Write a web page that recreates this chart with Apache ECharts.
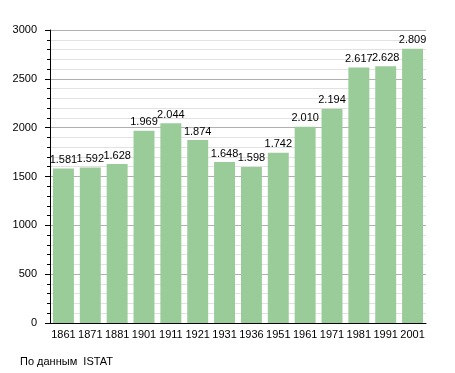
<!DOCTYPE html>
<html><head><meta charset="utf-8">
<script src="https://cdn.jsdelivr.net/npm/echarts@6/dist/echarts.min.js"></script>
<style>html,body{margin:0;padding:0;background:#fff}#c{width:455px;height:373px}</style>
</head><body><div id="c"></div>
<script>
const years = ["1861","1871","1881","1901","1911","1921","1931","1936","1951","1961","1971","1981","1991","2001"];
const population = [1581,1592,1628,1969,2044,1874,1648,1598,1742,2010,2194,2617,2628,2809];
const yTicks = [0,500,1000,1500,2000,2500,3000];
const sourceText = "По данным  ISTAT";

const chart = echarts.init(document.getElementById('c'), null, {renderer:'canvas'});
const font = 'Liberation Sans, Arial, sans-serif';
chart.setOption({
  animation:false,
  grid:{left:50,right:29,top:30,bottom:50},
  graphic:[{type:'text',left:20,top:356,style:{text:sourceText,font:'11px '+font,fill:'#000'}}],
  xAxis:{type:'category',data:years,
    axisLine:{lineStyle:{color:'#000',width:1}},
    axisTick:{show:false},
    axisLabel:{color:'#000',fontSize:11,fontFamily:font,margin:6,interval:0}},
  yAxis:{type:'value',min:yTicks[0],max:yTicks[yTicks.length-1],interval:500,
    axisLine:{show:true,lineStyle:{color:'#000',width:1}},
    axisTick:{show:true,length:5,lineStyle:{color:'#000'}},
    minorTick:{show:true,splitNumber:5,length:3,lineStyle:{color:'#000'}},
    splitLine:{lineStyle:{color:'#b0b0b0',width:1}},
    minorSplitLine:{show:true,lineStyle:{color:'#e2e2e2',width:1}},
    axisLabel:{color:'#000',fontSize:11,fontFamily:font,margin:13,formatter:v=>String(v)}},
  series:[{type:'bar',data:population,barCategoryGap:'22%',
    itemStyle:{color:'#99cc99'},
    label:{show:true,position:'top',distance:3,color:'#000',fontSize:11,fontFamily:font,
      formatter:p=>(p.value/1000).toFixed(3)}}]
});
</script></body></html>
